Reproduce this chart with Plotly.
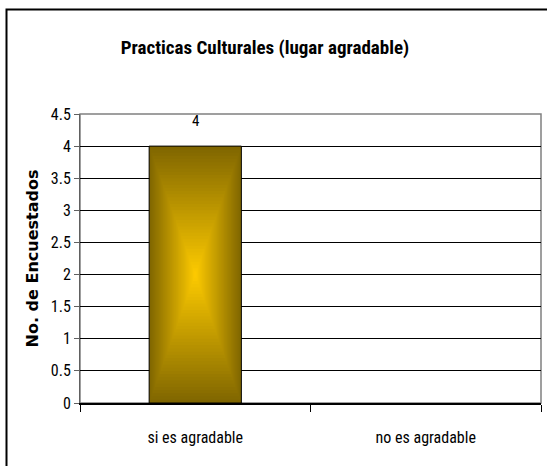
import plotly.graph_objects as go

categories = ["si es agradable", "no es agradable"]
values = [4, 0]
title_text = "Practicas Culturales (lugar agradable)"
y_title = "No. de Encuestados"

W, H = 547, 466
ML, MR, MT, MB = 80, 6, 114, 63
PW, PH = W - ML - MR, H - MT - MB

dark = (128, 102, 0)
bright = (255, 204, 0)
N = 40
BAR_W = 0.40

fig = go.Figure()
for i in range(N):
    t = i / N
    c = tuple(round(dark[k] + (bright[k] - dark[k]) * t) for k in range(3))
    fig.add_trace(go.Bar(
        x=categories,
        y=[v * (1 - t) for v in values],
        base=[v * t / 2 for v in values],
        width=BAR_W * (1 - t),
        marker=dict(color="rgb(%d,%d,%d)" % c,
                    line=dict(color="black",
                              width=[1 if (i == 0 and v > 0) else 0 for v in values])),
        hoverinfo="skip",
        showlegend=False,
    ))

narrow = "Liberation Sans Narrow, Arial Narrow, Roboto Condensed, Roboto, Liberation Sans, Arial, sans-serif"

for cat, v in zip(categories, values):
    if v > 0:
        fig.add_annotation(x=cat, y=v, text=str(v), showarrow=False,
                           yanchor="bottom", yshift=14,
                           font=dict(family=narrow, size=15, color="black"))

# outer chart frame
fig.add_shape(type="rect", xref="paper", yref="paper",
              x0=(6.5 - ML) / PW, x1=1.5, y0=-0.5, y1=1 + (MT - 9.5) / PH,
              line=dict(color="black", width=2), layer="below")
# plot area border
fig.add_shape(type="rect", xref="paper", yref="paper",
              x0=0, x1=1, y0=0, y1=1,
              line=dict(color="#808080", width=1.5), layer="between")

fig.update_layout(
    width=W, height=H,
    margin=dict(l=ML, r=MR, t=MT, b=MB, autoexpand=False),
    paper_bgcolor="white", plot_bgcolor="white",
    barmode="overlay",
    title=dict(text="<b>%s</b>" % title_text, x=265 / W, xanchor="center",
               y=1 - 47 / H, yanchor="middle",
               font=dict(family=narrow, size=19, color="black")),
    font=dict(family=narrow, size=15, color="black"),
)
fig.update_xaxes(
    type="category", range=[-0.5, 1.5],
    showline=True, linecolor="black", linewidth=2,
    ticks="outside", tickson="boundaries", ticklen=7, tickcolor="black", tickwidth=1,
    ticklabelstandoff=19,
    showgrid=False, zeroline=False,
    tickfont=dict(family=narrow, size=16, color="black"),
)
fig.update_yaxes(
    range=[0, 4.5], dtick=0.5, tick0=0,
    showline=True, linecolor="#606060", linewidth=1,
    ticks="outside", ticklen=5, tickcolor="#606060",
    showgrid=True, gridcolor="black", gridwidth=1,
    zeroline=False,
    tickfont=dict(family=narrow, size=16, color="black"),
    title=dict(text="<b>%s</b>" % y_title, standoff=8,
               font=dict(family="DejaVu Sans, Liberation Sans, Arial, sans-serif", size=16, color="black")),
)

fig.write_html("out.html", config={"displayModeBar": False},
               post_script="document.body.style.margin='0';document.body.style.overflow='hidden';")
